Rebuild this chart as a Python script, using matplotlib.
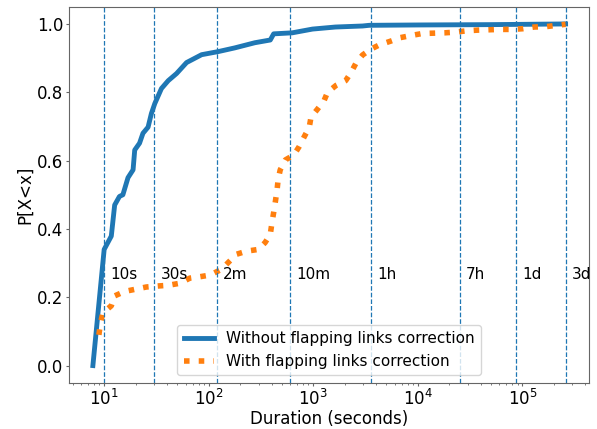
import matplotlib
matplotlib.use('Agg')
import matplotlib.pyplot as plt

# CDF without flapping links correction (duration in seconds, P[X<x])
no_corr_x = [7.8, 10, 11.7, 12.6, 14.0, 15.1, 16.9, 18.9, 19.6, 21.8, 23.5, 26.3, 28.3, 30.5,
             35.3, 41, 49.3, 61.4, 85.5, 123, 178, 276, 388, 418, 629, 984, 1630, 2960,
             3430, 10000, 50000, 259200]
no_corr_y = [0.0, 0.34, 0.379, 0.47, 0.495, 0.5, 0.55, 0.573, 0.631, 0.651, 0.68, 0.698, 0.738, 0.767,
             0.811, 0.834, 0.855, 0.887, 0.91, 0.919, 0.93, 0.945, 0.953, 0.971, 0.974, 0.985, 0.991, 0.994,
             0.996, 0.997, 0.998, 1.0]

# CDF with flapping links correction
corr_x = [8.9, 9.2, 9.7, 11.7, 12.6, 15.7, 20.3, 25.3, 32.8, 41, 53, 66, 82, 103, 133, 154, 185,
          231, 298, 346, 388, 403, 418, 434, 451, 461, 483, 541, 650, 730, 817, 916, 951, 1100,
          1270, 1370, 1650, 2040, 2300, 2570, 2960, 3540, 4310, 5420, 6820, 8580, 11000, 14100,
          18000, 23000, 29400, 38000, 48600, 62000, 79000, 101000, 130000, 167000, 215000, 259200]
corr_y = [0.09, 0.122, 0.154, 0.175, 0.204, 0.217, 0.224, 0.23, 0.233, 0.235, 0.241, 0.256, 0.26,
          0.265, 0.282, 0.302, 0.326, 0.335, 0.34, 0.36, 0.384, 0.419, 0.448, 0.48, 0.515, 0.544,
          0.573, 0.602, 0.616, 0.64, 0.669, 0.698, 0.727, 0.751, 0.776, 0.8, 0.82, 0.834, 0.858,
          0.886, 0.909, 0.926, 0.939, 0.949, 0.96, 0.966, 0.972, 0.973, 0.974, 0.976, 0.98, 0.982,
          0.983, 0.984, 0.984, 0.986, 0.991, 0.992, 0.996, 0.999]

# reference durations
mark_x = [10, 30, 120, 600, 3600, 25200, 86400, 259200]
mark_labels = ['10s', '30s', '2m', '10m', '1h', '7h', '1d', '3d']

fig, ax = plt.subplots(figsize=(5.97, 4.29), dpi=100)
fig.subplots_adjust(left=0.116, right=0.987, top=0.984, bottom=0.108)

ax.plot(no_corr_x, no_corr_y, color='tab:blue', lw=3.5, label='Without flapping links correction')
ax.plot(corr_x, corr_y, color='tab:orange', lw=4, ls=':', label='With flapping links correction')

for mx, ml in zip(mark_x, mark_labels):
    ax.axvline(mx, color='tab:blue', ls='--', lw=0.9)
    ax.text(mx * 1.15, 0.267, ml, fontsize=11, va='center', ha='left')

ax.set_xscale('log')
ax.set_xlabel('Duration (seconds)', fontsize=12, labelpad=1)
ax.set_ylabel('P[X<x]', fontsize=12, labelpad=2)
ax.tick_params(labelsize=12, which='major', length=2.5, pad=2, color='0.4')
ax.tick_params(which='minor', length=1.5, color='0.4')
for s in ax.spines.values():
    s.set_color('0.4')
ax.legend(loc='lower center', fontsize=11)

plt.savefig('out.png')
